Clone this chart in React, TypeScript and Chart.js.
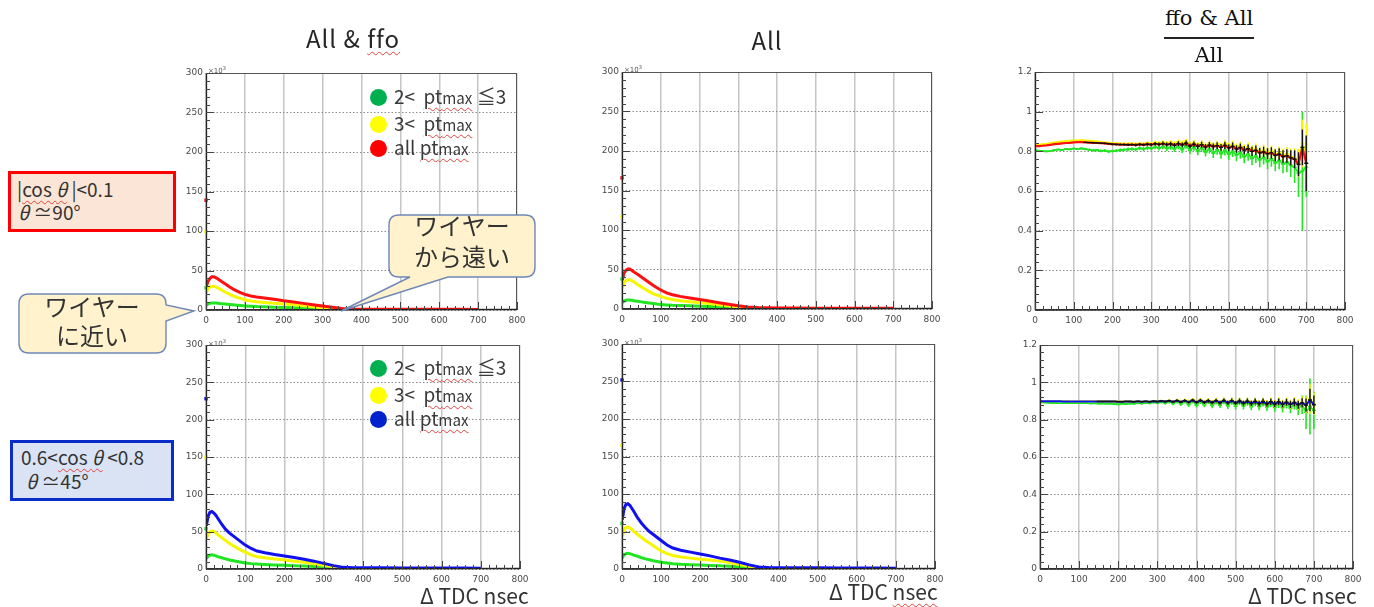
import React, { useEffect, useRef } from 'react';
import { Chart, registerables } from 'chart.js';

Chart.register(...registerables);

// ---------------- data (counts in units of 10^3) ----------------
const tdcNs = [1, 5, 10, 15, 20, 25, 30, 40, 50, 60, 70, 80, 90, 100, 115, 130, 150, 175, 200, 225, 250, 275, 300, 325, 350, 375, 400, 450, 500, 550, 600, 650, 700];

// |cos θ|<0.1, All & ffo
const ffo90Red = [30, 36, 40, 42, 42, 41, 39.5, 36, 33, 29.5, 26.5, 24, 21.8, 19.8, 17.8, 16.5, 15.3, 13.5, 11.6, 10, 8.4, 6.7, 5, 3.4, 2, 1.4, 1.1, 1, 0.9, 0.9, 0.8, 0.8, 0.6];
const ffo90Yellow = [22, 27, 29, 30, 30, 29.2, 28, 25.5, 22.5, 20, 18, 16, 14.5, 13, 11.5, 10.5, 9.5, 8.5, 7.5, 6.5, 5.3, 4, 2.8, 1.6, 0.8, 0.5, 0.4, 0.3, 0.2, 0.2, 0.2, 0.1, 0.1];
const ffo90Green = [6, 7.5, 8.5, 9, 9, 8.8, 8.5, 8, 7.5, 7, 6.5, 6, 5.6, 5.2, 4.7, 4.3, 4, 3.6, 3.3, 2.9, 2.5, 2.1, 1.6, 0.9, 0.4, 0.2, 0.15, 0.1, 0.1, 0.1, 0.1, 0.05, 0.05];
const ffo90Spikes = [139, 99, 28]; // red, yellow, green first bin

// |cos θ|<0.1, All
const all90Red = [37, 45, 49, 50.5, 50.5, 49, 47, 44, 40.5, 37, 33.5, 30, 27, 24, 20.5, 18, 16, 14, 12, 10, 8, 6, 4, 2.6, 1.8, 1.5, 1.3, 1.2, 1.1, 1, 1, 0.9, 0.8];
const all90Yellow = [27, 33, 36, 37, 37, 36, 34.5, 31, 28, 25, 22, 19.5, 17.5, 16, 13.5, 12, 10.5, 9.2, 8, 7, 5.5, 4, 2.5, 1.5, 0.7, 0.4, 0.3, 0.2, 0.2, 0.2, 0.1, 0.1, 0.1];
const all90Green = [8, 10, 11, 11.5, 11.5, 11, 10.5, 9.8, 9, 8.3, 7.6, 7, 6.3, 5.8, 5.2, 4.7, 4.3, 4, 3.6, 3.2, 2.7, 2.2, 1.6, 0.9, 0.4, 0.2, 0.1, 0.1, 0.1, 0.1, 0.1, 0.05, 0.05];
const all90Spikes = [166, 117, 38];

// 0.6<cos θ<0.8, All & ffo
const ffo45Blue = [58, 70, 76, 77, 75, 72, 68, 60, 53, 48, 44, 40, 36, 32, 27.5, 24, 21.8, 19.5, 17.5, 15.5, 13, 10.5, 7.5, 4.5, 2.2, 1.8, 1.7, 1.6, 1.5, 1.4, 1.3, 1.2, 1];
const ffo45Yellow = [40, 47, 50, 51, 50, 48, 46, 42, 38, 34, 31, 28, 25, 22.5, 19, 16.5, 15, 13.5, 12, 10.5, 9, 7, 5, 3, 1, 0.5, 0.3, 0.2, 0.2, 0.1, 0.1, 0.1, 0.1];
const ffo45Green = [14, 17, 18.5, 19, 18.5, 17.5, 16.5, 15, 13.5, 12, 11, 10, 9, 8, 7.2, 6.6, 6, 5.5, 5, 4.5, 4, 3.4, 2.7, 1.6, 0.6, 0.3, 0.2, 0.1, 0.1, 0.1, 0.1, 0.1, 0.1];
const ffo45Spikes = [228, 150, 54];

// 0.6<cos θ<0.8, All
const all45Blue = [66, 80, 86, 87, 85, 81, 77, 68, 61, 55, 50, 46, 42, 38, 32, 28, 25, 22.5, 20, 17.5, 14.5, 12, 9, 5.5, 2.8, 2, 1.8, 1.7, 1.6, 1.5, 1.4, 1.3, 1.1];
const all45Yellow = [44, 52, 55.5, 56, 55, 53, 50, 46, 42, 38, 34.5, 31, 27.5, 24, 20.5, 18, 16, 14.5, 13, 12, 10.5, 8.5, 6, 3.5, 1.2, 0.6, 0.4, 0.2, 0.2, 0.1, 0.1, 0.1, 0.1];
const all45Green = [15, 19, 20.5, 21, 20.5, 19.5, 18.5, 17, 15, 13.5, 12.3, 11, 10, 9, 8, 7, 6.3, 5.8, 5.2, 4.8, 4.3, 3.7, 3, 1.8, 0.7, 0.3, 0.2, 0.1, 0.1, 0.1, 0.1, 0.1, 0.1];
const all45Spikes = [252, 165, 61];

// ratio (ffo & All) / All
const ratioX = [0, 10, 20, 30, 40, 50, 60, 70, 80, 90, 100, 110, 120, 130, 140, 150, 160, 170, 180, 190, 200, 210, 220, 230, 240, 250, 260, 270, 280, 290, 300, 310, 320, 330, 340, 350, 360, 370, 380, 390, 400, 410, 420, 430, 440, 450, 460, 470, 480, 490, 500, 510, 520, 530, 540, 550, 560, 570, 580, 590, 600, 610, 620, 630, 640, 650, 660, 670, 680, 690, 700];

const r90Red = [
  0.826, 0.826, 0.828, 0.830, 0.833, 0.836, 0.838, 0.840, 0.842, 0.843,
  0.845, 0.846, 0.846, 0.845, 0.844, 0.843, 0.842, 0.841, 0.840, 0.838,
  0.836, 0.835, 0.834, 0.834, 0.833, 0.834, 0.832, 0.835, 0.833, 0.836,
  0.834, 0.838, 0.835, 0.839, 0.834, 0.837, 0.831, 0.839, 0.833, 0.841,
  0.827, 0.836, 0.826, 0.833, 0.822, 0.831, 0.824, 0.829, 0.820, 0.830,
  0.818, 0.825, 0.812, 0.819, 0.806, 0.813, 0.800, 0.805, 0.792, 0.797,
  0.788, 0.792, 0.780, 0.785, 0.774, 0.777, 0.768, 0.760, 0.735, 0.820,
  0.740];
const r90RedErr = [
  0.001, 0.001, 0.001, 0.001, 0.001, 0.001, 0.001, 0.001, 0.001, 0.001,
  0.001, 0.001, 0.001, 0.003, 0.003, 0.003, 0.003, 0.004, 0.004, 0.004,
  0.005, 0.005, 0.005, 0.006, 0.006, 0.006, 0.007, 0.007, 0.007, 0.008,
  0.008, 0.009, 0.009, 0.010, 0.010, 0.011, 0.011, 0.012, 0.012, 0.013,
  0.013, 0.014, 0.014, 0.015, 0.015, 0.016, 0.016, 0.017, 0.017, 0.018,
  0.018, 0.019, 0.019, 0.020, 0.021, 0.022, 0.023, 0.024, 0.025, 0.026,
  0.027, 0.028, 0.029, 0.030, 0.032, 0.034, 0.038, 0.045, 0.060, 0.090,
  0.140];
const r90Yellow = [
  0.832, 0.833, 0.836, 0.838, 0.841, 0.844, 0.847, 0.849, 0.851, 0.853,
  0.854, 0.855, 0.856, 0.855, 0.853, 0.851, 0.849, 0.847, 0.845, 0.843,
  0.841, 0.840, 0.839, 0.838, 0.838, 0.839, 0.837, 0.840, 0.838, 0.842,
  0.840, 0.844, 0.841, 0.846, 0.840, 0.845, 0.838, 0.848, 0.841, 0.852,
  0.834, 0.845, 0.832, 0.842, 0.828, 0.840, 0.830, 0.838, 0.826, 0.840,
  0.824, 0.835, 0.818, 0.828, 0.812, 0.822, 0.806, 0.814, 0.798, 0.806,
  0.794, 0.800, 0.786, 0.794, 0.780, 0.786, 0.774, 0.766, 0.740, 0.840,
  0.790];
const r90YellowErr = [
  0.002, 0.002, 0.002, 0.002, 0.002, 0.002, 0.002, 0.002, 0.002, 0.002,
  0.003, 0.003, 0.003, 0.003, 0.004, 0.004, 0.004, 0.004, 0.005, 0.005,
  0.005, 0.006, 0.006, 0.006, 0.007, 0.007, 0.007, 0.008, 0.008, 0.008,
  0.009, 0.009, 0.010, 0.010, 0.011, 0.011, 0.012, 0.012, 0.013, 0.013,
  0.014, 0.014, 0.015, 0.015, 0.016, 0.016, 0.017, 0.017, 0.018, 0.018,
  0.019, 0.020, 0.021, 0.022, 0.023, 0.024, 0.025, 0.026, 0.027, 0.028,
  0.029, 0.030, 0.031, 0.032, 0.034, 0.036, 0.040, 0.050, 0.070, 0.120,
  0.150];
const r90Green = [
  0.806, 0.803, 0.801, 0.800, 0.802, 0.806, 0.809, 0.807, 0.812, 0.810,
  0.814, 0.812, 0.815, 0.811, 0.808, 0.805, 0.806, 0.802, 0.804, 0.799,
  0.801, 0.803, 0.806, 0.808, 0.810, 0.812, 0.809, 0.816, 0.812, 0.818,
  0.815, 0.822, 0.816, 0.824, 0.814, 0.822, 0.812, 0.826, 0.808, 0.830,
  0.804, 0.822, 0.800, 0.818, 0.796, 0.812, 0.790, 0.808, 0.788, 0.806,
  0.786, 0.800, 0.780, 0.794, 0.772, 0.786, 0.764, 0.776, 0.756, 0.770,
  0.748, 0.762, 0.742, 0.754, 0.736, 0.746, 0.730, 0.720, 0.690, 0.700,
  0.720];
const r90GreenErr = [
  0.004, 0.004, 0.004, 0.004, 0.004, 0.005, 0.005, 0.005, 0.005, 0.005,
  0.005, 0.005, 0.006, 0.006, 0.006, 0.006, 0.006, 0.007, 0.007, 0.007,
  0.007, 0.008, 0.008, 0.008, 0.009, 0.009, 0.009, 0.010, 0.010, 0.011,
  0.011, 0.012, 0.012, 0.013, 0.014, 0.014, 0.015, 0.016, 0.016, 0.017,
  0.018, 0.019, 0.020, 0.021, 0.022, 0.023, 0.024, 0.025, 0.026, 0.027,
  0.028, 0.029, 0.030, 0.031, 0.032, 0.033, 0.034, 0.035, 0.036, 0.037,
  0.038, 0.040, 0.042, 0.044, 0.046, 0.050, 0.060, 0.080, 0.120, 0.300,
  0.150];

const r45Blue = [
  0.898, 0.898, 0.898, 0.898, 0.898, 0.898, 0.897, 0.897, 0.897, 0.897,
  0.897, 0.897, 0.897, 0.897, 0.897, 0.897, 0.897, 0.897, 0.897, 0.897,
  0.896, 0.896, 0.897, 0.897, 0.896, 0.898, 0.896, 0.898, 0.896, 0.899,
  0.897, 0.900, 0.897, 0.901, 0.896, 0.902, 0.895, 0.902, 0.894, 0.904,
  0.893, 0.903, 0.893, 0.901, 0.892, 0.902, 0.891, 0.903, 0.890, 0.902,
  0.889, 0.900, 0.888, 0.899, 0.887, 0.898, 0.886, 0.897, 0.885, 0.896,
  0.884, 0.895, 0.883, 0.893, 0.882, 0.892, 0.880, 0.890, 0.878, 0.905,
  0.880];
const r45BlueErr = [
  0.001, 0.001, 0.001, 0.001, 0.001, 0.001, 0.001, 0.001, 0.001, 0.001,
  0.001, 0.001, 0.001, 0.001, 0.001, 0.002, 0.002, 0.002, 0.002, 0.002,
  0.002, 0.002, 0.003, 0.003, 0.003, 0.003, 0.004, 0.004, 0.004, 0.005,
  0.005, 0.005, 0.006, 0.006, 0.006, 0.007, 0.007, 0.007, 0.008, 0.008,
  0.008, 0.009, 0.009, 0.010, 0.010, 0.010, 0.011, 0.011, 0.012, 0.012,
  0.012, 0.013, 0.013, 0.014, 0.014, 0.015, 0.015, 0.016, 0.016, 0.017,
  0.017, 0.018, 0.018, 0.019, 0.020, 0.021, 0.022, 0.025, 0.035, 0.060,
  0.050];
const r45Yellow = [
  0.899, 0.899, 0.899, 0.899, 0.899, 0.899, 0.899, 0.899, 0.898, 0.898,
  0.898, 0.898, 0.898, 0.898, 0.898, 0.898, 0.898, 0.898, 0.898, 0.898,
  0.898, 0.897, 0.899, 0.898, 0.897, 0.900, 0.897, 0.899, 0.897, 0.901,
  0.898, 0.902, 0.898, 0.903, 0.897, 0.904, 0.896, 0.905, 0.895, 0.906,
  0.894, 0.905, 0.894, 0.904, 0.893, 0.905, 0.892, 0.906, 0.891, 0.905,
  0.890, 0.903, 0.889, 0.902, 0.888, 0.901, 0.887, 0.900, 0.886, 0.899,
  0.885, 0.898, 0.884, 0.896, 0.883, 0.895, 0.881, 0.893, 0.880, 0.910,
  0.885];
const r45YellowErr = [
  0.001, 0.001, 0.001, 0.001, 0.001, 0.001, 0.001, 0.001, 0.001, 0.001,
  0.002, 0.002, 0.002, 0.002, 0.002, 0.002, 0.002, 0.002, 0.002, 0.002,
  0.003, 0.003, 0.003, 0.004, 0.004, 0.004, 0.005, 0.005, 0.005, 0.006,
  0.006, 0.006, 0.007, 0.007, 0.008, 0.008, 0.008, 0.009, 0.009, 0.010,
  0.010, 0.011, 0.011, 0.012, 0.012, 0.013, 0.013, 0.014, 0.014, 0.015,
  0.015, 0.016, 0.016, 0.017, 0.017, 0.018, 0.018, 0.019, 0.019, 0.020,
  0.021, 0.022, 0.023, 0.024, 0.025, 0.026, 0.028, 0.032, 0.045, 0.080,
  0.060];
const r45Green = [
  0.893, 0.892, 0.891, 0.890, 0.889, 0.888, 0.888, 0.889, 0.888, 0.889,
  0.888, 0.889, 0.888, 0.887, 0.888, 0.886, 0.887, 0.885, 0.886, 0.884,
  0.882, 0.885, 0.884, 0.887, 0.886, 0.889, 0.887, 0.891, 0.888, 0.893,
  0.890, 0.895, 0.889, 0.897, 0.887, 0.898, 0.884, 0.899, 0.880, 0.900,
  0.878, 0.898, 0.880, 0.899, 0.876, 0.897, 0.878, 0.900, 0.874, 0.898,
  0.872, 0.896, 0.874, 0.894, 0.870, 0.893, 0.871, 0.892, 0.868, 0.890,
  0.866, 0.888, 0.864, 0.887, 0.862, 0.884, 0.858, 0.880, 0.840, 0.870,
  0.850];
const r45GreenErr = [
  0.003, 0.003, 0.003, 0.003, 0.003, 0.003, 0.003, 0.003, 0.003, 0.003,
  0.004, 0.004, 0.004, 0.004, 0.004, 0.004, 0.004, 0.004, 0.004, 0.004,
  0.005, 0.005, 0.005, 0.006, 0.006, 0.006, 0.007, 0.007, 0.007, 0.008,
  0.008, 0.009, 0.009, 0.010, 0.010, 0.011, 0.011, 0.012, 0.012, 0.013,
  0.013, 0.014, 0.014, 0.015, 0.015, 0.016, 0.016, 0.017, 0.017, 0.018,
  0.018, 0.019, 0.019, 0.020, 0.020, 0.021, 0.021, 0.022, 0.022, 0.023,
  0.024, 0.025, 0.026, 0.027, 0.028, 0.030, 0.035, 0.050, 0.090, 0.150,
  0.100];

// axis ticks
const xTicks = [0, 100, 200, 300, 400, 500, 600, 700, 800];
const xTickLabels = ['0', '100', '200', '300', '400', '500', '600', '700', '800'];
const countTicks = [0, 50, 100, 150, 200, 250, 300];
const countTickLabels = ['0', '50', '100', '150', '200', '250', '300'];
const ratioTicks = [0, 0.2, 0.4, 0.6, 0.8, 1.0, 1.2];
const ratioTickLabels = ['0', '0.2', '0.4', '0.6', '0.8', '1', '1.2'];

// ---------------- styling ----------------
const C_RED = '#ff1010';
const C_YEL = '#f6f600';
const C_GRN = '#22e522';
const C_BLU = '#1010f0';

const PAD_L = 40, PAD_T = 12, PAD_R = 18, PAD_B = 26;

const curve = (xs: number[], ys: number[], color: string, width = 3) => ({
  data: xs.map((x, i) => ({ x, y: ys[i] })),
  borderColor: color,
  backgroundColor: color,
  borderWidth: width,
  pointRadius: 0,
  tension: 0,
  fill: false,
});

const spike = (v: number, color: string) => ({
  data: [{ x: 0, y: v }],
  showLine: false,
  pointStyle: 'rect',
  pointRadius: 2.4,
  backgroundColor: color,
  borderColor: color,
  borderWidth: 0,
  clip: false,
});

const ratio = (ys: number[], errs: number[], color: string, width: number, errColor: string, errWidth: number) => ({
  ...curve(ratioX, ys, color, width),
  errors: errs,
  errorColor: errColor,
  errorWidth: errWidth,
});

const errorBarPlugin = {
  id: 'errorBars',
  afterDatasetDraw(chart: any, args: any) {
    const ds = chart.data.datasets[args.index];
    if (!ds || !ds.errors) return;
    const { ctx, chartArea: a, scales } = chart;
    const xs = scales.x, ys = scales.y;
    ctx.save();
    ctx.beginPath();
    ctx.rect(a.left, a.top, a.right - a.left, a.bottom - a.top);
    ctx.clip();
    ctx.strokeStyle = ds.errorColor;
    ctx.lineWidth = ds.errorWidth;
    ctx.beginPath();
    ds.data.forEach((p: any, i: number) => {
      const e = ds.errors[i];
      if (e < 0.002) return;
      const px = xs.getPixelForValue(p.x);
      ctx.moveTo(px, ys.getPixelForValue(p.y - e));
      ctx.lineTo(px, ys.getPixelForValue(p.y + e));
      const py = ys.getPixelForValue(p.y);
      ctx.moveTo(px - 2, py);
      ctx.lineTo(px + 2, py);
    });
    ctx.stroke();
    ctx.restore();
  },
};

const framePlugin = {
  id: 'rootFrame',
  afterDraw(chart: any, _args: any, opts: any) {
    const { ctx, chartArea: a, scales } = chart;
    const xs = scales.x, ys = scales.y;
    ctx.save();
    ctx.strokeStyle = '#555';
    ctx.lineWidth = 1;
    ctx.strokeRect(Math.round(a.left) + 0.5, Math.round(a.top) + 0.5, Math.round(a.right - a.left) - 1, Math.round(a.bottom - a.top) - 1);
    ctx.strokeStyle = '#222';
    ctx.lineWidth = 1.3;
    ctx.beginPath();
    ctx.moveTo(Math.round(a.left) + 0.5, a.top);
    ctx.lineTo(Math.round(a.left) + 0.5, a.bottom);
    ctx.lineTo(a.right, Math.round(a.bottom) - 0.5);
    ctx.stroke();
    ctx.strokeStyle = '#444';
    ctx.lineWidth = 1;
    ctx.beginPath();
    for (let k = 0; k <= opts.xCount; k++) {
      const v = xs.min + (k * (xs.max - xs.min)) / opts.xCount;
      const px = Math.round(xs.getPixelForValue(v)) + 0.5;
      const len = k % 5 === 0 ? 8 : 4;
      ctx.moveTo(px, a.bottom);
      ctx.lineTo(px, a.bottom - len);
    }
    for (let k = 0; k <= opts.yCount; k++) {
      const v = ys.min + (k * (ys.max - ys.min)) / opts.yCount;
      const py = Math.round(ys.getPixelForValue(v)) + 0.5;
      const len = k % 5 === 0 ? 8 : 4;
      ctx.moveTo(a.left, py);
      ctx.lineTo(a.left + len, py);
    }
    ctx.stroke();
    ctx.restore();
  },
};

type PanelCfg = {
  key: string;
  l: number; t: number; r: number; b: number;
  yMax: number; yTicks: number[]; yLabels: string[];
  datasets: any[];
};

const panels: PanelCfg[] = [
  {
    key: 'ffo90', l: 206, t: 73, r: 517, b: 310, yMax: 300, yTicks: countTicks, yLabels: countTickLabels,
    datasets: [
      curve(tdcNs, ffo90Red, C_RED), curve(tdcNs, ffo90Yellow, C_YEL), curve(tdcNs, ffo90Green, C_GRN),
      spike(ffo90Spikes[0], C_RED), spike(ffo90Spikes[1], C_YEL), spike(ffo90Spikes[2], C_GRN),
    ],
  },
  {
    key: 'all90', l: 622, t: 72, r: 932, b: 309, yMax: 300, yTicks: countTicks, yLabels: countTickLabels,
    datasets: [
      curve(tdcNs, all90Red, C_RED), curve(tdcNs, all90Yellow, C_YEL), curve(tdcNs, all90Green, C_GRN),
      spike(all90Spikes[0], C_RED), spike(all90Spikes[1], C_YEL), spike(all90Spikes[2], C_GRN),
    ],
  },
  {
    key: 'ratio90', l: 1035, t: 72, r: 1345, b: 310, yMax: 1.2, yTicks: ratioTicks, yLabels: ratioTickLabels,
    datasets: [
      ratio(r90Red, r90RedErr, C_RED, 2.2, '#111', 1.4),
      ratio(r90Yellow, r90YellowErr, C_YEL, 2, C_YEL, 1.5),
      ratio(r90Green, r90GreenErr, C_GRN, 1.6, C_GRN, 1.6),
    ],
  },
  {
    key: 'ffo45', l: 206, t: 345, r: 520, b: 569, yMax: 300, yTicks: countTicks, yLabels: countTickLabels,
    datasets: [
      curve(tdcNs, ffo45Blue, C_BLU), curve(tdcNs, ffo45Yellow, C_YEL), curve(tdcNs, ffo45Green, C_GRN),
      spike(ffo45Spikes[0], C_BLU), spike(ffo45Spikes[1], C_YEL), spike(ffo45Spikes[2], C_GRN),
    ],
  },
  {
    key: 'all45', l: 622, t: 344, r: 935, b: 569, yMax: 300, yTicks: countTicks, yLabels: countTickLabels,
    datasets: [
      curve(tdcNs, all45Blue, C_BLU), curve(tdcNs, all45Yellow, C_YEL), curve(tdcNs, all45Green, C_GRN),
      spike(all45Spikes[0], C_BLU), spike(all45Spikes[1], C_YEL), spike(all45Spikes[2], C_GRN),
    ],
  },
  {
    key: 'ratio45', l: 1040, t: 345, r: 1353, b: 569, yMax: 1.2, yTicks: ratioTicks, yLabels: ratioTickLabels,
    datasets: [
      ratio(r45Blue, r45BlueErr, C_BLU, 2, '#111', 1.4),
      ratio(r45Yellow, r45YellowErr, C_YEL, 1.8, C_YEL, 1.5),
      ratio(r45Green, r45GreenErr, C_GRN, 1.6, C_GRN, 1.6),
    ],
  },
];

const tickFont = { family: '"DejaVu Sans", sans-serif', size: 9 };

function Panel({ cfg }: { cfg: PanelCfg }) {
  const ref = useRef<HTMLCanvasElement>(null);
  const W = cfg.r - cfg.l + PAD_L + PAD_R;
  const H = cfg.b - cfg.t + PAD_T + PAD_B;
  useEffect(() => {
    if (!ref.current) return;
    const chart = new Chart(ref.current, {
      type: 'line',
      data: { datasets: cfg.datasets },
      options: {
        animation: false,
        responsive: false,
        devicePixelRatio: 1,
        events: [],
        layout: { padding: { top: PAD_T, right: PAD_R, left: 0, bottom: 0 } },
        plugins: {
          legend: { display: false },
          tooltip: { enabled: false },
          rootFrame: { xCount: 40, yCount: 30 },
        } as any,
        scales: {
          x: {
            type: 'linear', min: 0, max: 800,
            afterBuildTicks: (s: any) => { s.ticks = xTicks.map((v) => ({ value: v })); },
            afterFit: (s: any) => { s.height = PAD_B; },
            ticks: {
              autoSkip: false, maxRotation: 0, padding: 5, color: '#4a4a4a', font: tickFont,
              callback: (v: any) => xTickLabels[xTicks.indexOf(Number(v))] ?? '',
            },
            grid: { color: '#c6c6c6', lineWidth: 1.5, drawTicks: false },
            border: { display: false },
          },
          y: {
            type: 'linear', min: 0, max: cfg.yMax,
            afterBuildTicks: (s: any) => { s.ticks = cfg.yTicks.map((v) => ({ value: v })); },
            afterFit: (s: any) => { s.width = PAD_L; },
            ticks: {
              autoSkip: false, padding: 3, color: '#4a4a4a', font: tickFont,
              callback: (v: any) => {
                const i = cfg.yTicks.findIndex((t) => Math.abs(t - Number(v)) < 1e-9);
                return i >= 0 ? cfg.yLabels[i] : '';
              },
            },
            grid: { color: '#8c8c8c', lineWidth: 1, drawTicks: false },
            border: { display: false, dash: [1.5, 2] },
          },
        },
      } as any,
      plugins: [errorBarPlugin as any, framePlugin as any],
    });
    return () => chart.destroy();
  }, [cfg]);
  return (
    <canvas
      ref={ref}
      width={W}
      height={H}
      style={{ position: 'absolute', left: cfg.l - PAD_L, top: cfg.t - PAD_T, width: W, height: H }}
    />
  );
}

// ---------------- overlay text ----------------
const JP = '"Noto Sans CJK JP", "Noto Sans", sans-serif';
const wavy: React.CSSProperties = {
  textDecorationLine: 'underline',
  textDecorationStyle: 'wavy',
  textDecorationColor: '#e0443c',
  textDecorationThickness: '1px',
  textUnderlineOffset: '3px',
};

function Abs({ x, y, fs, lh, children, style, center }: any) {
  // y: visual centre of the line
  const top = y - lh / 2 - 0.07 * fs;
  return (
    <div
      style={{
        position: 'absolute',
        left: center ? x - 150 : x,
        width: center ? 300 : undefined,
        textAlign: center ? 'center' : 'left',
        top,
        fontSize: fs,
        lineHeight: `${lh}px`,
        whiteSpace: 'nowrap',
        ...style,
      }}
    >
      {children}
    </div>
  );
}

function Ptmax() {
  return (
    <span style={wavy}>
      pt<span style={{ fontSize: '0.8em' }}>max</span>
    </span>
  );
}

function LegendItem({ cx, cy, color, children }: any) {
  return (
    <>
      <div style={{ position: 'absolute', left: cx - 8.5, top: cy - 8.5, width: 17, height: 17, borderRadius: '50%', background: color }} />
      <Abs x={cx + 16} y={cy} fs={19} lh={24} style={{ color: '#3a3a3a' }}>{children}</Abs>
    </>
  );
}

function Legend({ top, third, thirdColor }: any) {
  return (
    <>
      <LegendItem cx={378} cy={top} color="#00b050">2&lt;&nbsp;&nbsp;<Ptmax /> ≦3</LegendItem>
      <LegendItem cx={378} cy={top + 27} color="#ffff00">3&lt;&nbsp;&nbsp;<Ptmax /></LegendItem>
      <LegendItem cx={378} cy={top + 51} color={thirdColor}>{third}&nbsp;<Ptmax /></LegendItem>
    </>
  );
}

function Exp({ x, y }: any) {
  return (
    <div style={{ position: 'absolute', left: x, top: y, fontSize: 7, lineHeight: '8px', color: '#555', fontFamily: '"DejaVu Sans", sans-serif' }}>
      ×10<sup style={{ fontSize: 5 }}>3</sup>
    </div>
  );
}

function AxisTitle({ x, y }: any) {
  return (
    <Abs x={x} y={y} fs={21} lh={26} style={{ color: '#333' }}>
      Δ TDC <span style={wavy}>nsec</span>
    </Abs>
  );
}

export default function App() {
  return (
    <div
      style={{
        position: 'absolute', left: 0, top: 0, width: 1374, height: 607, background: '#ffffff',
        overflow: 'hidden', fontFamily: JP, color: '#222',
      }}
    >
      {panels.map((p) => <Panel key={p.key} cfg={p} />)}

      <Exp x={208} y={64} />
      <Exp x={624} y={63} />
      <Exp x={208} y={337} />
      <Exp x={624} y={336} />

      {/* column titles */}
      <Abs x={353} y={40} fs={24} lh={30} center style={{ color: '#262626', letterSpacing: '1px' }}>
        All &amp; <span style={wavy}>ffo</span>
      </Abs>
      <Abs x={767} y={42} fs={24} lh={30} center style={{ color: '#262626', letterSpacing: '1px' }}>All</Abs>
      <div style={{ position: 'absolute', left: 1109, width: 200, top: 4, textAlign: 'center', fontFamily: '"DejaVu Serif", serif', fontSize: 21, lineHeight: '28px', color: '#111' }}>ffo &amp; All</div>
      <div style={{ position: 'absolute', left: 1164, width: 90, top: 37, height: 1.5, background: '#222' }} />
      <div style={{ position: 'absolute', left: 1109, width: 200, top: 41, textAlign: 'center', fontFamily: '"DejaVu Serif", serif', fontSize: 21, lineHeight: '28px', color: '#111' }}>All</div>

      {/* legends */}
      <Legend top={97} third="all" thirdColor="#ff0000" />
      <Legend top={368} third="all" thirdColor="#0022cc" />

      {/* condition boxes */}
      <div style={{ position: 'absolute', left: 8, top: 171, width: 162, height: 55, background: '#fbe5d6', border: '3px solid #ff0000' }} />
      <Abs x={17} y={190} fs={19} lh={22} style={{ color: '#333' }}>
        |<span style={wavy}>cos <i>θ</i></span> |&lt;0.1
      </Abs>
      <Abs x={18} y={213} fs={19} lh={22} style={{ color: '#333' }}>
        <i>θ</i> ≃90°
      </Abs>

      <div style={{ position: 'absolute', left: 10, top: 440, width: 158, height: 55, background: '#dae3f3', border: '3.5px solid #0a2cc8' }} />
      <Abs x={21} y={458} fs={19} lh={22} style={{ color: '#333' }}>
        0.6&lt;<span style={wavy}>cos <i>θ</i></span> &lt;0.8
      </Abs>
      <Abs x={26} y={482} fs={19} lh={22} style={{ color: '#333' }}>
        <i>θ</i> ≃45°
      </Abs>

      {/* callouts */}
      <svg width={1374} height={607} style={{ position: 'absolute', left: 0, top: 0, pointerEvents: 'none' }}>
        <path
          d="M29 294 H156 Q166 294 166 304 L166 305 L194 311 L166 321 L166 343 Q166 353 156 353 L29 353 Q19 353 19 343 L19 304 Q19 294 29 294 Z"
          fill="#fff2cc" stroke="#6f88b8" strokeWidth={1.4}
        />
        <path
          d="M399 215 H525 Q535 215 535 225 V267 Q535 277 525 277 H448 L341 311 L410 277 H399 Q389 277 389 267 V225 Q389 215 399 215 Z"
          fill="#fff2cc" stroke="#6f88b8" strokeWidth={1.4}
        />
      </svg>
      <Abs x={92} y={308} fs={24} lh={30} center style={{ color: '#333' }}>ワイヤー</Abs>
      <Abs x={92} y={337} fs={24} lh={30} center style={{ color: '#333' }}>に近い</Abs>
      <Abs x={462} y={227} fs={24} lh={30} center style={{ color: '#333' }}>ワイヤー</Abs>
      <Abs x={462} y={258} fs={24} lh={30} center style={{ color: '#333' }}>から遠い</Abs>

      {/* x axis titles */}
      <AxisTitle x={420} y={596} />
      <AxisTitle x={829} y={592} />
      <AxisTitle x={1248} y={596} />
    </div>
  );
}
